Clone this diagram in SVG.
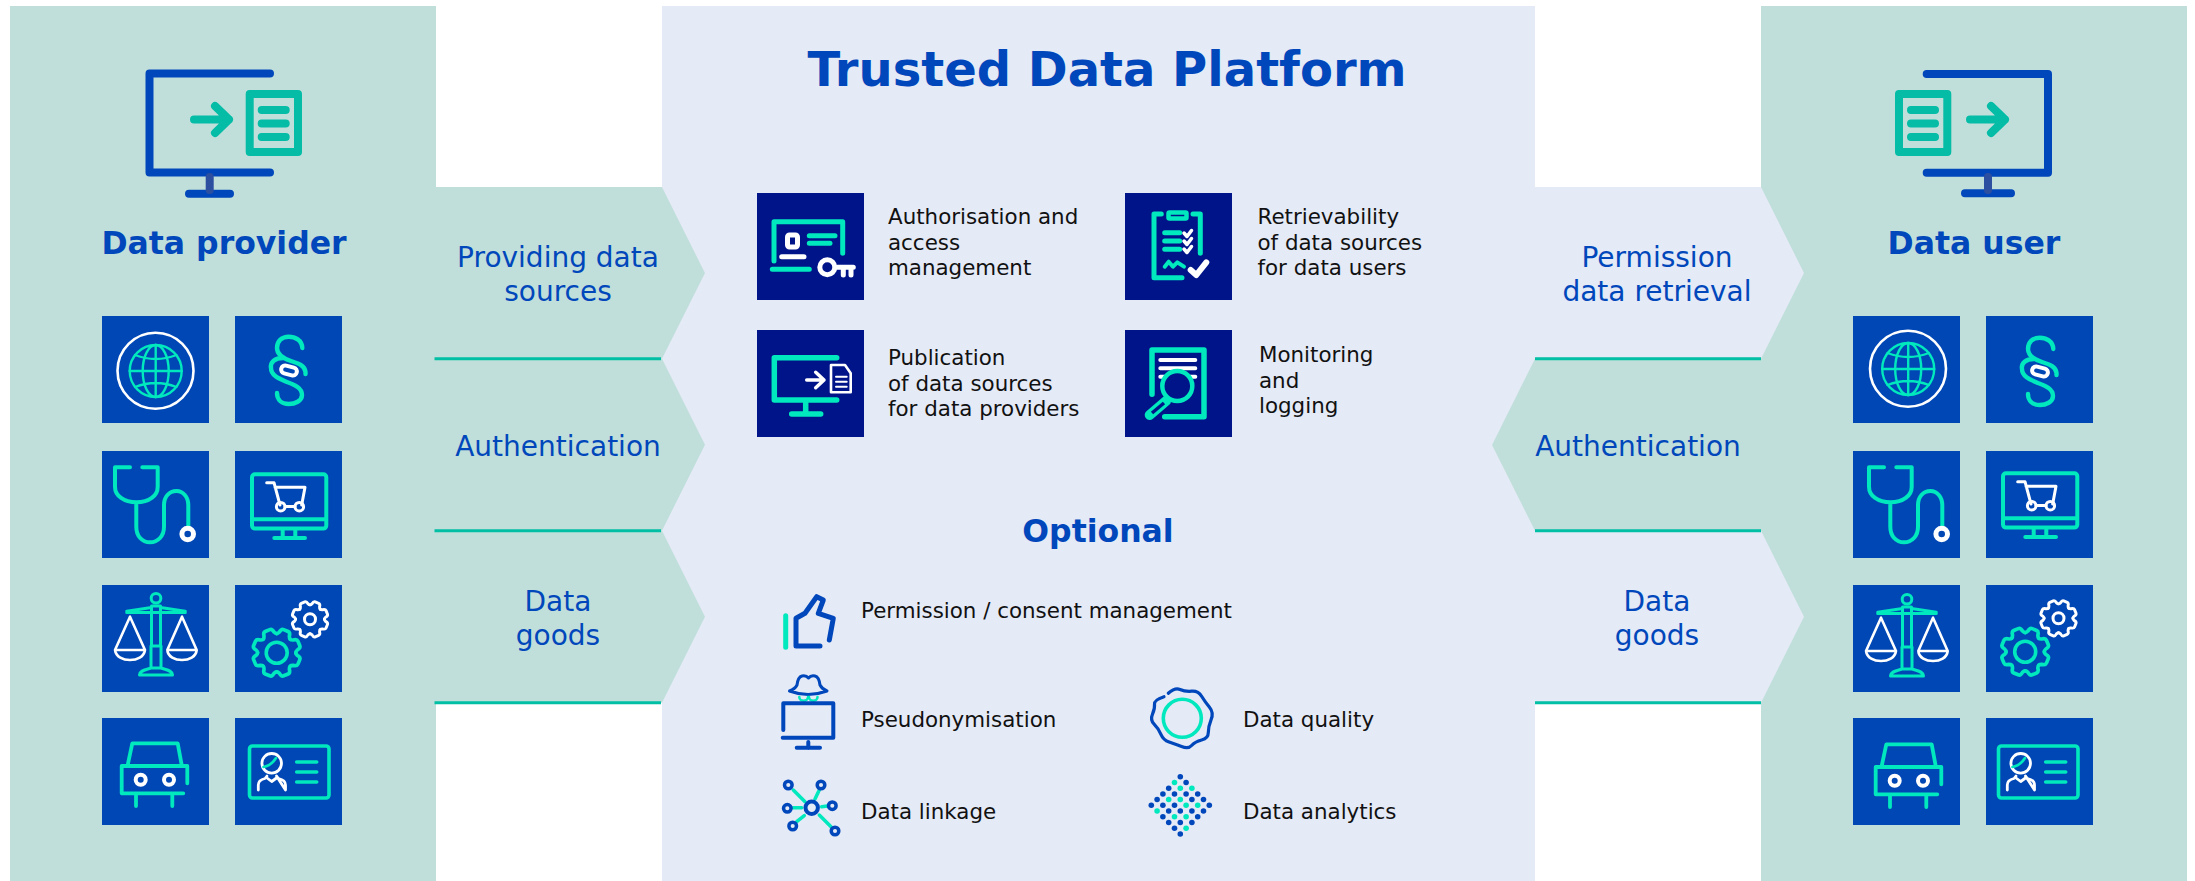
<svg xmlns="http://www.w3.org/2000/svg" xmlns:xlink="http://www.w3.org/1999/xlink" width="2195" height="881" viewBox="0 0 2195 881">
<style>
text{font-family:"DejaVu Sans","Liberation Sans",sans-serif}
.title{font-size:48px;font-weight:700;fill:#0047bb}
.head{font-size:31.500px;font-weight:700;fill:#0047bb}
.flow{font-size:28px;fill:#0047bb;text-anchor:middle}
.lbl{font-size:21.400px;fill:#111}
.tile{fill:#0047b6}
.navy{fill:#00148a}
.g{fill:#c1dfda}
.lb{fill:#e4eaf6}
.rule{stroke:#00bfa5;stroke-width:3;fill:none}
.t,.w,.bl,.tb,.tm{fill:none;stroke-linecap:round;stroke-linejoin:round}
.t{stroke:#00e8bd}
.w{stroke:#fff}
.bl{stroke:#0047bb}
.tm{stroke:#05bca6}
.dotb{fill:#0047bb}
.dott{fill:#00e8bd}
</style>
<defs>
<path id="tooth" d="M-.298-.72Q-.25-.74-.22-.82Q-.2-.98-.1-.98L.1-.98Q.2-.98.22-.82Q.25-.74.298-.72"/>
<g id="gear">
<use xlink:href="#tooth" transform="rotate(22.5)"/><use xlink:href="#tooth" transform="rotate(67.5)"/><use xlink:href="#tooth" transform="rotate(112.5)"/><use xlink:href="#tooth" transform="rotate(157.5)"/><use xlink:href="#tooth" transform="rotate(202.5)"/><use xlink:href="#tooth" transform="rotate(247.5)"/><use xlink:href="#tooth" transform="rotate(292.5)"/><use xlink:href="#tooth" transform="rotate(337.5)"/>
</g>
<g id="i-globe">
<circle class="w" cx="53.5" cy="54.8" r="38" stroke-width="2.6"/>
<g class="t" stroke-width="2.4">
<circle cx="53.7" cy="55" r="26"/>
<ellipse cx="53.7" cy="55" rx="13" ry="26"/>
<path d="M53.7 29V81M27.7 55H79.7M33 39Q53.7 47 74.400 39M33 71Q53.700 63 74.400 71"/>
</g>
</g>
<g id="i-para">
<g class="t" stroke-width="4.4">
<path d="M67.300 32C67 24 60 20.700 53.700 20.700C47 20.700 42 25 42 32C42 39 50 43 56 45C64 47.500 70 50 70.500 56V58"/>
<path d="M48 42C40 42 35 46 36 52C36 60 45 63 52 66C60 69 67 72 67 79C67 85 60 88 53.700 88C47 88 42 84 42 77"/>
</g>
<rect class="w" x="46" y="50.500" width="16" height="8" rx="4" stroke-width="4" transform="rotate(15 54 54.500)"/>
</g>
<g id="i-steth">
<path class="t" stroke-width="4" d="M28 16.300H13V35.700C13 45 22 51.300 34.500 51.300C47 51.300 55.700 45 55.700 35.700V16.300H40.300M34.300 51.300V75.700C34.300 85 40 91.300 48 91.300C56 91.300 62 85 62 75.700V54C62 46 67 40 74.500 40C81 40 86.300 46 86.300 54V76"/>
<circle class="w" cx="85.700" cy="83" r="5.800" stroke-width="5"/>
</g>
<g id="i-cart">
<g class="t" stroke-width="4">
<rect x="17" y="23.300" width="74.300" height="54.300" rx="3"/>
<path d="M17 68.300H91M47.700 79V87M60.300 79V87M39.300 87H70"/>
</g>
<g class="w" stroke-width="3">
<path d="M31.700 31.700H39L45 54M40 36.300H70L66.700 54M50 55.500H60"/>
<circle cx="45.700" cy="55.700" r="4.300"/>
<circle cx="64.300" cy="55.700" r="4.300"/>
</g>
</g>
<g id="i-scale">
<g class="t" stroke-width="3">
<circle cx="54" cy="13.300" r="4.800"/>
<path d="M49.500 61V21H58.500V61M49 61H59V83H49ZM49 83C44 85 38 85 37.500 90H70.500C70 85 64 85 59 83M37.500 90H70.500"/>
<path d="M24.700 26.300L49.500 22.500M58.500 22.500L83.300 26.300M24.700 27.500H83.300"/>
</g>
<g class="w" stroke-width="2.600">
<path d="M28 31.700L13 65H43ZM13 65C14 72 21 75 28 75C35 75 42 72 43 65"/>
<path d="M80 31.700L65.300 65H94.700ZM65.300 65C66 72 73 75 80 75C87 75 94 72 94.700 65"/>
</g>
</g>
<g id="i-gears">
<use class="t" xlink:href="#gear" transform="translate(41.700 67.700) scale(24.500)" stroke-width=".15"/>
<circle class="t" cx="41.700" cy="67.700" r="10.500" stroke-width="3.600"/>
<use class="w" xlink:href="#gear" transform="translate(75 34.300) scale(18.500)" stroke-width=".16"/>
<circle class="w" cx="75" cy="34.300" r="5.500" stroke-width="3"/>
</g>
<g id="i-car">
<path class="t" stroke-width="3.800" d="M25.700 47L30.300 25.300H75.700L79.700 47M85.300 65.300V48H19.700V75.300H81.300M34 75.300V88M70.300 75.300V88"/>
<circle class="w" cx="38.700" cy="61.700" r="5" stroke-width="4"/>
<circle class="w" cx="67" cy="61.700" r="5" stroke-width="4"/>
</g>
<g id="i-id">
<rect class="t" x="14.500" y="28" width="79.500" height="52" rx="3" stroke-width="3.600"/>
<path class="t" stroke-width="3.600" d="M61.700 44H81.700M61.700 54H81.700M61.700 64H81.700"/>
<g class="w" stroke-width="2.800">
<circle cx="36.700" cy="45.300" r="9.800"/>
<path d="M23.300 72V67Q23.300 62 30 60.500L32 58M41.500 58L43.500 60.500Q50.500 62 50.500 67V72Z"/>
<path d="M32 60L36.700 63.500L41.500 60"/>
</g>
<path class="t" stroke-width="2.600" d="M28.500 49Q36 48 41 40"/>
</g>
<g id="bigdoc">
<rect class="tm" width="48.300" height="58" stroke-width="8"/>
<path class="tm" stroke-width="8" d="M12 16H36M12 29.500H36M12 43H36"/>
</g>
</defs>

<g id="panel-provider"><rect class="g" x="10" y="6" width="426" height="875"/></g>
<g id="panel-platform"><rect class="lb" x="662" y="6" width="873" height="875"/></g>
<g id="panel-user"><rect class="g" x="1761" y="6" width="426" height="875"/></g>

<g id="connectors">
<path class="g" d="M430 187H662L705 273L662 358.700L705 444.700L662 530.700L705 616.700L662 702.700H430Z"/>
<path class="lb" d="M1530 187H1761L1804 273L1761 358.700H1530Z"/>
<path class="g" d="M1535 358.700H1765V530.700H1535L1492 445Z"/>
<path class="lb" d="M1530 530.700H1761L1804 616.700L1761 702.700H1530Z"/>
<path class="rule" d="M434.500 358.700H661M434.500 530.700H661M434.500 702.700H661M1535 358.700H1761M1535 530.700H1761M1535 702.700H1761"/>
<text class="flow" x="558" y="267">Providing data</text>
<text class="flow" x="558" y="301">sources</text>
<text class="flow" x="558" y="456">Authentication</text>
<text class="flow" x="558" y="611">Data</text>
<text class="flow" x="558" y="645">goods</text>
<text class="flow" x="1657" y="267">Permission</text>
<text class="flow" x="1657" y="301">data retrieval</text>
<text class="flow" x="1638" y="456">Authentication</text>
<text class="flow" x="1657" y="611">Data</text>
<text class="flow" x="1657" y="645">goods</text>
</g>

<g id="provider">
<path class="bl" stroke-width="8" d="M270 73.500H149.500V172.500H270M189 193.700H230"/>
<path fill="none" stroke="#2d4f9f" stroke-width="8" stroke-linecap="round" d="M209.700 177V190"/>
<use xlink:href="#bigdoc" transform="translate(249.700 94)"/>
<path class="tm" stroke-width="8" d="M194 119.500H229M215 106L229 119.500L215 133"/>
<text class="head" x="224" y="254" text-anchor="middle">Data provider</text>
<rect class="tile" x="102" y="316" width="107" height="107"/>
<rect class="tile" x="235" y="316" width="107" height="107"/>
<rect class="tile" x="102" y="451" width="107" height="107"/>
<rect class="tile" x="235" y="451" width="107" height="107"/>
<rect class="tile" x="102" y="585" width="107" height="107"/>
<rect class="tile" x="235" y="585" width="107" height="107"/>
<rect class="tile" x="102" y="718" width="107" height="107"/>
<rect class="tile" x="235" y="718" width="107" height="107"/>
<use xlink:href="#i-globe" x="102" y="316"/>
<use xlink:href="#i-para" x="235" y="316"/>
<use xlink:href="#i-steth" x="102" y="451"/>
<use xlink:href="#i-cart" x="235" y="451"/>
<use xlink:href="#i-scale" x="102" y="585"/>
<use xlink:href="#i-gears" x="235" y="585"/>
<use xlink:href="#i-car" x="102" y="718"/>
<use xlink:href="#i-id" x="235" y="718"/>
</g>

<g id="user">
<path class="bl" stroke-width="8" d="M1926.700 74H2048V172.700H1926.700M1965 193.300H2011"/>
<path fill="none" stroke="#2d4f9f" stroke-width="8" stroke-linecap="round" d="M1988 177V190"/>
<use xlink:href="#bigdoc" transform="translate(1899 94)"/>
<path class="tm" stroke-width="8" d="M1970 119.500H2005M1991 106L2005 119.500L1991 133"/>
<text class="head" x="1974" y="254" text-anchor="middle">Data user</text>
<rect class="tile" x="1853" y="316" width="107" height="107"/>
<rect class="tile" x="1986" y="316" width="107" height="107"/>
<rect class="tile" x="1853" y="451" width="107" height="107"/>
<rect class="tile" x="1986" y="451" width="107" height="107"/>
<rect class="tile" x="1853" y="585" width="107" height="107"/>
<rect class="tile" x="1986" y="585" width="107" height="107"/>
<rect class="tile" x="1853" y="718" width="107" height="107"/>
<rect class="tile" x="1986" y="718" width="107" height="107"/>
<use xlink:href="#i-globe" x="1854.500" y="314"/>
<use xlink:href="#i-para" x="1986" y="317"/>
<use xlink:href="#i-steth" x="1856" y="451"/>
<use xlink:href="#i-cart" x="1986" y="450"/>
<use xlink:href="#i-scale" x="1853" y="586"/>
<use xlink:href="#i-gears" x="1983.500" y="584"/>
<use xlink:href="#i-car" x="1856" y="719"/>
<use xlink:href="#i-id" x="1984" y="718"/>
</g>

<g id="platform-title"><text class="title" x="1107" y="86" text-anchor="middle">Trusted Data Platform</text></g>

<g id="authorisation">
<rect class="navy" x="757" y="193" width="107" height="107"/>
<g transform="translate(757 193)">
<path class="t" stroke-width="5" d="M17 68V28.700H85.700V60.300M52.300 42.700H78M52.300 50.300H73M15.300 76.300H52.300"/>
<rect class="w" x="30.500" y="42" width="10" height="12" rx="2" stroke-width="5"/>
<path class="w" stroke-width="5" d="M24.700 63.700H47M80.300 74.300H96.300M86.300 74.300V82M94 74.300V82"/>
<circle class="w" cx="70.300" cy="74.300" r="7.500" stroke-width="5"/>
</g>
<text class="lbl" x="888" y="224">Authorisation and</text>
<text class="lbl" x="888" y="250">access</text>
<text class="lbl" x="888" y="275">management</text>
</g>

<g id="retrievability">
<rect class="navy" x="1125" y="193" width="107" height="107"/>
<g transform="translate(1125 193)">
<path class="t" stroke-width="5" d="M36.300 21H29V84.700H57M68 21H75.300V60.300M39.700 39.700H54.700M39.700 48H54.700M39.700 56.300H54.700"/>
<rect class="t" x="43.500" y="19.500" width="18" height="6" rx="1" stroke-width="4.500"/>
<path class="t" stroke-width="4" d="M39.700 73.700L43.700 68.700L48 73.700L52.300 69.300L59 73.700"/>
<path class="w" stroke-width="3.500" d="M59 40L62 43.500L66.500 37.500M59 48L62 51.500L66.500 45.500M59 56L62 59.500L66.500 53.500"/>
<path class="w" stroke-width="6" d="M65.700 77L71.300 82L81.300 69.300"/>
</g>
<text class="lbl" x="1257.500" y="224">Retrievability</text>
<text class="lbl" x="1257.500" y="250">of data sources</text>
<text class="lbl" x="1257.500" y="275">for data users</text>
</g>

<g id="publication">
<rect class="navy" x="757" y="330" width="107" height="107"/>
<g transform="translate(757 330)">
<path class="t" stroke-width="5.500" d="M79.700 27.700H17.300V70H79.700M48.700 70V83M34.700 84H63.700"/>
<path class="w" stroke-width="3.500" d="M49.700 50H67M58.700 42.300L67 50L58.700 57.700"/>
<path class="w" stroke-width="2.600" d="M74 35H88L93.700 43.300V62.300H74Z"/>
<path class="w" stroke-width="2" d="M79 46.700H89.700M79 51.700H89.700M79 56.700H89.700"/>
</g>
<text class="lbl" x="888" y="365">Publication</text>
<text class="lbl" x="888" y="391">of data sources</text>
<text class="lbl" x="888" y="416">for data providers</text>
</g>

<g id="monitoring">
<rect class="navy" x="1125" y="330" width="107" height="107"/>
<g transform="translate(1125 330)">
<path class="t" stroke-width="5.500" d="M27 64.300V20H79V86.700H39.700"/>
<path class="w" stroke-width="4" d="M35.300 30H70.300M35.300 38.300H70.300M35.300 46.700H70.300" stroke-linecap="butt"/>
<circle class="navy" cx="52.300" cy="56" r="15"/>
<circle class="t" cx="52.300" cy="56" r="15" stroke-width="4.500"/>
<path class="t" stroke-width="10" d="M41 71L24.700 85"/>
<path stroke="#00148a" stroke-width="3.500" d="M39 73L27 83"/>
</g>
<text class="lbl" x="1259" y="362">Monitoring</text>
<text class="lbl" x="1259" y="388">and</text>
<text class="lbl" x="1259" y="413">logging</text>
</g>

<g id="optional-title"><text class="head" x="1098" y="542" text-anchor="middle">Optional</text></g>

<g id="permission">
<path class="t" stroke-width="5" d="M785.700 615.700V647.300"/>
<path class="bl" stroke-width="5" d="M820 646H796V618.300L805 613.300L816.700 596.700L823.300 600L818.300 613.300L833.300 618.300L829.300 640"/>
<text class="lbl" x="861" y="618">Permission / consent management</text>
</g>

<g id="pseudonymisation">
<path class="bl" stroke-width="3" d="M789.500 691Q795 689 797 685Q798 677 802 676Q806 675 808.500 678Q811 675 815 676Q819 677 820 685Q822 689 827 691Q808 698 789.500 691Z"/>
<path class="t" stroke-width="2.500" d="M799.300 697C799.300 702 808 702 808 697M809 697C809 702 817.500 702 817.500 697"/>
<path class="bl" stroke-width="4" d="M783.300 730V703.300H833.300V737.700H782.700M808.300 742V748M796.700 747.700H820"/>
<text class="lbl" x="861" y="727">Pseudonymisation</text>
</g>

<g id="linkage">
<path class="t" stroke-width="3.500" d="M793.300 790L805 801.700M819.300 790L815 799M793.300 807.700H801.700M821.700 806.700L827.300 806M796.700 821.700L804.300 815.700M819.300 815L831 826.700"/>
<g class="bl" stroke-width="3.500">
<circle cx="811.700" cy="807.700" r="6.200" stroke-width="4"/>
<circle cx="788.300" cy="785" r="3.800"/>
<circle cx="821" cy="785" r="3.800"/>
<circle cx="787.300" cy="808.300" r="3.800"/>
<circle cx="832.300" cy="805.700" r="3.800"/>
<circle cx="792.700" cy="826" r="3.800"/>
<circle cx="835" cy="831" r="3.800"/>
</g>
<text class="lbl" x="861" y="819">Data linkage</text>
</g>

<g id="quality">
<path class="bl" stroke-width="3.200" d="M1168.300 693.300Q1175 687.300 1180 689.500Q1185 691.700 1191.600 691.200Q1198.300 690.700 1201.600 696.200Q1205 701.700 1209.500 707.200Q1214 712.700 1211.100 719.700Q1208.300 726.700 1208.300 732.500Q1208.300 738.300 1201.600 740Q1195 741.700 1191.600 745.500Q1188.300 749.300 1181.600 746.600Q1175 744 1169.100 742Q1163.300 740 1160.800 734.100Q1158.300 728.300 1154.100 724.100Q1150 720 1152.500 714.100Q1155 708.300 1154.500 704.100Q1154 700 1164 696.700"/>
<circle class="t" cx="1182.300" cy="718.300" r="19" stroke-width="3.600"/>
<text class="lbl" x="1243" y="727">Data quality</text>
</g>

<g id="analytics">
<g transform="translate(1180.300 776.700) scale(5.800 5.730)">
<g class="dotb">
<circle cx="0" cy="0" r=".48"/><circle cx="1" cy="1" r=".48"/>
<circle cx="-2" cy="2" r=".48"/>
<circle cx="-3" cy="3" r=".48"/><circle cx="-1" cy="3" r=".48"/><circle cx="1" cy="3" r=".48"/><circle cx="3" cy="3" r=".48"/>
<circle cx="-4" cy="4" r=".48"/><circle cx="2" cy="4" r=".48"/><circle cx="4" cy="4" r=".48"/>
<circle cx="-5" cy="5" r=".48"/><circle cx="-3" cy="5" r=".48"/><circle cx="-1" cy="5" r=".48"/><circle cx="5" cy="5" r=".48"/>
<circle cx="-2" cy="6" r=".48"/><circle cx="0" cy="6" r=".48"/><circle cx="2" cy="6" r=".48"/><circle cx="4" cy="6" r=".48"/>
<circle cx="-3" cy="7" r=".48"/><circle cx="3" cy="7" r=".48"/>
<circle cx="-2" cy="8" r=".48"/><circle cx="0" cy="8" r=".48"/><circle cx="2" cy="8" r=".48"/>
<circle cx="-1" cy="9" r=".48"/>
<circle cx="0" cy="10" r=".48"/>
</g>
<g class="dott">
<circle cx="-1" cy="1" r=".48"/><circle cx="0" cy="2" r=".48"/><circle cx="2" cy="2" r=".48"/>
<circle cx="-2" cy="4" r=".48"/><circle cx="0" cy="4" r=".48"/>
<circle cx="1" cy="5" r=".48"/><circle cx="3" cy="5" r=".48"/>
<circle cx="-4" cy="6" r=".48"/>
<circle cx="-1" cy="7" r=".48"/><circle cx="1" cy="7" r=".48"/>
<circle cx="1" cy="9" r=".48"/>
</g>
</g>
<text class="lbl" x="1243" y="819">Data analytics</text>
</g>
</svg>
